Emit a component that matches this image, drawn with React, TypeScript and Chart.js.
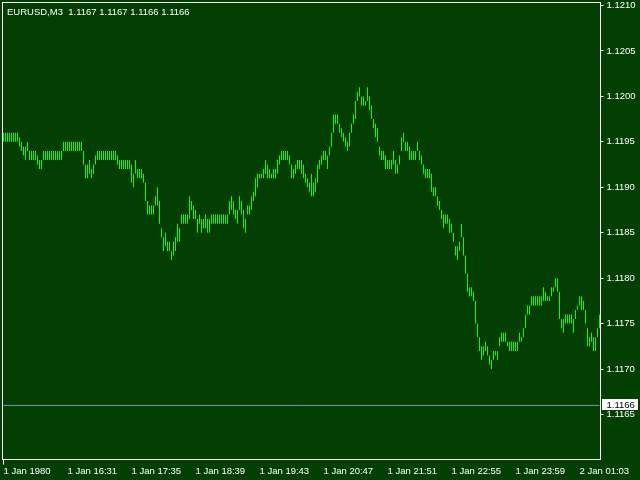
import { useEffect, useRef } from "react";
import { Chart, registerables } from "chart.js";

Chart.register(...registerables);

// ---- chart text ----
const symbolTitle = "EURUSD,M3";
const lastOHLC = ["1.1167", "1.1167", "1.1166", "1.1166"];
const bidPrice = 1.1166;

// time labels shown every 32 bars
const timeLabels = [
  "1 Jan 1980",
  "1 Jan 16:31",
  "1 Jan 17:35",
  "1 Jan 18:39",
  "1 Jan 19:43",
  "1 Jan 20:47",
  "1 Jan 21:51",
  "1 Jan 22:55",
  "1 Jan 23:59",
  "2 Jan 01:03",
];
const labelEvery = 32;

// price axis
const priceTicks = [1.1165, 1.117, 1.1175, 1.118, 1.1185, 1.119, 1.1195, 1.12, 1.1205, 1.121];
const yMin = 1.116005;
const yMax = 1.121033;

// ---- bar highs / lows ----
const highs = [
  // 0-48
  1.1196, 1.1196, 1.1196, 1.1196, 1.1196, 1.1196, 1.1196, 1.1196, 1.11955, 1.1195,
  1.11945, 1.11945, 1.1195, 1.1194, 1.1194, 1.1194, 1.1194, 1.11935, 1.1193, 1.1193,
  1.1194, 1.1194, 1.1194, 1.1194, 1.1194, 1.1194, 1.1194, 1.1194, 1.1194, 1.1194,
  1.1195, 1.1195, 1.1195, 1.1195, 1.1195, 1.1195, 1.1195, 1.1195, 1.1195, 1.1195,
  1.1194, 1.11925, 1.11925, 1.1193, 1.1192, 1.11925, 1.11935, 1.1194, 1.1194,
  // 49-98
  1.1194, 1.1194, 1.1194, 1.1194, 1.1194, 1.1194, 1.1194, 1.1194, 1.11935, 1.1193,
  1.1193, 1.1193, 1.1193, 1.1193, 1.1193, 1.11925, 1.11915, 1.1193, 1.1192, 1.1192,
  1.1192, 1.11915, 1.11905, 1.11885, 1.1188, 1.1188, 1.1188, 1.1189, 1.119, 1.11885,
  1.11855, 1.11845, 1.1185, 1.1184, 1.1184, 1.1183, 1.1184, 1.11845, 1.1186, 1.11855,
  1.1187, 1.1187, 1.1187, 1.1187, 1.1189, 1.11885, 1.1188, 1.11875, 1.11865, 1.1187,
  // 99-148
  1.11865, 1.11865, 1.1187, 1.11865, 1.11865, 1.1187, 1.1187, 1.1187, 1.1187, 1.1187,
  1.1187, 1.1187, 1.1187, 1.1187, 1.11885, 1.1189, 1.11885, 1.11875, 1.11875, 1.1189,
  1.11885, 1.11875, 1.11865, 1.1188, 1.1188, 1.1189, 1.11895, 1.1191, 1.11915, 1.11915,
  1.11915, 1.1192, 1.1193, 1.11925, 1.1192, 1.11915, 1.1192, 1.1192, 1.1193, 1.11935,
  1.1194, 1.1194, 1.1194, 1.1194, 1.11935, 1.11925, 1.1192, 1.11925, 1.1193, 1.1193,
  // 149-198
  1.1193, 1.11925, 1.11915, 1.1191, 1.11905, 1.11915, 1.11905, 1.1191, 1.11925, 1.1193,
  1.11935, 1.1194, 1.1194, 1.11935, 1.11945, 1.1196, 1.1198, 1.1198, 1.1198, 1.1197,
  1.11965, 1.1196, 1.11955, 1.1195, 1.1196, 1.1197, 1.1198, 1.11995, 1.12005, 1.1201,
  1.12, 1.12, 1.11995, 1.1201, 1.12, 1.1199, 1.11975, 1.1197, 1.11965, 1.11945,
  1.1194, 1.1194, 1.11935, 1.1193, 1.1193, 1.1193, 1.1194, 1.1193, 1.11925, 1.11935,
  // 199-248
  1.11955, 1.1196, 1.1195, 1.1195, 1.11945, 1.1194, 1.1194, 1.1194, 1.1195, 1.1194,
  1.11935, 1.11925, 1.1192, 1.1192, 1.1192, 1.11915, 1.119, 1.119, 1.1189, 1.11885,
  1.11875, 1.1187, 1.1187, 1.1187, 1.11865, 1.1186, 1.1185, 1.11835, 1.11835, 1.1184,
  1.1186, 1.11845, 1.11825, 1.11805, 1.1179, 1.1179, 1.11785, 1.11775, 1.1175, 1.11735,
  1.11725, 1.11725, 1.1173, 1.11725, 1.11715, 1.1171, 1.1172, 1.1172, 1.1172, 1.11735,
  // 249-298
  1.1174, 1.1174, 1.1174, 1.1173, 1.1173, 1.1173, 1.1173, 1.1173, 1.1173, 1.1174,
  1.11735, 1.11745, 1.1176, 1.1177, 1.1177, 1.1178, 1.1178, 1.1178, 1.1178, 1.1178,
  1.1178, 1.1179, 1.11785, 1.1178, 1.1178, 1.1179, 1.1179, 1.118, 1.118, 1.11785,
  1.11755, 1.11755, 1.1176, 1.1176, 1.1176, 1.1176, 1.11755, 1.11765, 1.1177, 1.1178,
  1.1178, 1.11775, 1.11765, 1.11745, 1.11735, 1.1174, 1.11735, 1.11735, 1.11745, 1.1176,
];

const lows = [
  // 0-48
  1.1195, 1.1195, 1.1195, 1.1195, 1.1195, 1.1195, 1.1195, 1.1195, 1.11945, 1.1194,
  1.11935, 1.1193, 1.1194, 1.1193, 1.1193, 1.1193, 1.1193, 1.11925, 1.1192, 1.1192,
  1.1193, 1.1193, 1.1193, 1.1193, 1.1193, 1.1193, 1.1193, 1.1193, 1.1193, 1.1193,
  1.1194, 1.1194, 1.1194, 1.1194, 1.1194, 1.1194, 1.1194, 1.1194, 1.1194, 1.1194,
  1.11925, 1.1191, 1.1191, 1.11915, 1.1191, 1.11915, 1.11925, 1.1193, 1.1193,
  // 49-98
  1.1193, 1.1193, 1.1193, 1.1193, 1.1193, 1.1193, 1.1193, 1.1193, 1.11925, 1.1192,
  1.1192, 1.1192, 1.1192, 1.1192, 1.1192, 1.11905, 1.119, 1.11915, 1.1191, 1.1191,
  1.1191, 1.11905, 1.11885, 1.1187, 1.1187, 1.1187, 1.1187, 1.1188, 1.1188, 1.1186,
  1.11845, 1.1183, 1.11835, 1.1183, 1.1183, 1.1182, 1.11825, 1.1183, 1.1184, 1.1184,
  1.1186, 1.1186, 1.1186, 1.1186, 1.11865, 1.11875, 1.11865, 1.11865, 1.1185, 1.1186,
  // 99-148
  1.1185, 1.11855, 1.11855, 1.1185, 1.1185, 1.1186, 1.1186, 1.1186, 1.1186, 1.1186,
  1.1186, 1.1186, 1.1186, 1.1186, 1.1187, 1.11875, 1.1187, 1.11865, 1.1186, 1.11875,
  1.1187, 1.11855, 1.1185, 1.1187, 1.1187, 1.11875, 1.11885, 1.1189, 1.119, 1.1191,
  1.1191, 1.1191, 1.11915, 1.1191, 1.1191, 1.1191, 1.1191, 1.1191, 1.11915, 1.11925,
  1.1193, 1.1193, 1.1193, 1.1193, 1.11925, 1.1191, 1.1191, 1.11915, 1.1192, 1.1192,
  // 149-198
  1.11915, 1.1191, 1.11905, 1.119, 1.11895, 1.1189, 1.1189, 1.11895, 1.11905, 1.1192,
  1.11925, 1.1193, 1.1193, 1.1192, 1.11935, 1.11945, 1.1196, 1.1197, 1.1197, 1.1196,
  1.11955, 1.1195, 1.11945, 1.1194, 1.11945, 1.1196, 1.1197, 1.11975, 1.11995, 1.12,
  1.1199, 1.1199, 1.1199, 1.11995, 1.11985, 1.11975, 1.11965, 1.11955, 1.1195, 1.11935,
  1.1193, 1.1193, 1.1192, 1.1192, 1.1192, 1.1192, 1.11925, 1.11915, 1.11915, 1.11925,
  // 199-248
  1.1194, 1.1195, 1.1194, 1.1194, 1.1193, 1.1193, 1.1193, 1.1193, 1.1194, 1.1193,
  1.11925, 1.11915, 1.1191, 1.1191, 1.1191, 1.11895, 1.1189, 1.1189, 1.1188, 1.11875,
  1.11865, 1.11855, 1.1186, 1.1186, 1.1185, 1.1185, 1.1184, 1.11825, 1.1182, 1.1183,
  1.11845, 1.11825, 1.11805, 1.11785, 1.1178, 1.1178, 1.11775, 1.1175, 1.11735, 1.1172,
  1.1171, 1.11715, 1.1172, 1.11715, 1.11705, 1.117, 1.1171, 1.11715, 1.1171, 1.11725,
  // 249-298
  1.1173, 1.1173, 1.1173, 1.11725, 1.1172, 1.1172, 1.1172, 1.1172, 1.1172, 1.1173,
  1.1173, 1.11735, 1.11745, 1.1176, 1.1176, 1.1177, 1.1177, 1.1177, 1.1177, 1.1177,
  1.1177, 1.11775, 1.11775, 1.11775, 1.11775, 1.1178, 1.11785, 1.1179, 1.11785, 1.11755,
  1.11745, 1.1174, 1.1175, 1.1175, 1.1175, 1.1175, 1.1174, 1.11755, 1.11765, 1.1177,
  1.11765, 1.11765, 1.1175, 1.11725, 1.11725, 1.1173, 1.1172, 1.1172, 1.11735, 1.11745,
];

const BG = "#033f03";
const BAR = "#00ff00";
const FG = "#ffffff";
const BID_LINE = "#8a90b0";
const FONT = "Liberation Sans";

export default function App() {
  const canvasRef = useRef<HTMLCanvasElement>(null);

  useEffect(() => {
    const canvas = canvasRef.current;
    if (!canvas) return;
    const labels = highs.map((_, i) => i);
    const ranges = highs.map((h, i) => [lows[i], h]);

    const framePlugin = {
      id: "frame",
      beforeDatasetsDraw(chart: any) {
        const { ctx, chartArea: a } = chart;
        ctx.save();
        ctx.strokeStyle = FG;
        ctx.lineWidth = 1;
        ctx.strokeRect(a.left, a.top, a.right - a.left, a.bottom - a.top);
        ctx.restore();
      },
      afterDraw(chart: any) {
        const { ctx } = chart;
        const yScale = chart.scales.y;
        const yb = yScale.getPixelForValue(bidPrice);
        ctx.save();
        // bid price label box
        ctx.fillStyle = FG;
        ctx.fillRect(602, Math.round(yb) - 6, 36, 11);
        ctx.fillStyle = "#000000";
        ctx.font = `9.5px "${FONT}"`;
        ctx.textBaseline = "middle";
        ctx.textAlign = "left";
        ctx.fillText(bidPrice.toFixed(4), 606.5, yb);
        // header text
        ctx.fillStyle = FG;
        ctx.textBaseline = "alphabetic";
        ctx.fillText(symbolTitle + "  " + lastOHLC.join(" "), 7, 15);
        ctx.restore();
      },
    };

    const chart = new Chart(canvas, {
      type: "bar",
      data: {
        labels,
        datasets: [
          {
            type: "bar",
            data: ranges as any,
            backgroundColor: BAR,
            borderWidth: 0,
            barThickness: 1,
            inflateAmount: 0,
            order: 1,
          } as any,
          {
            type: "line",
            data: [
              { x: 0, y: bidPrice },
              { x: labels.length - 1, y: bidPrice },
            ],
            borderColor: BID_LINE,
            borderWidth: 1,
            pointRadius: 0,
            pointHoverRadius: 0,
            pointBorderWidth: 0,
            fill: false,
            order: 2,
          } as any,
        ],
      },
      options: {
        responsive: false,
        devicePixelRatio: 1,
        animation: false,
        events: [],
        layout: { autoPadding: false, padding: { left: 2.5, top: 2.5, right: 0, bottom: 0 } },
        plugins: {
          legend: { display: false },
          tooltip: { enabled: false },
        },
        scales: {
          x: {
            type: "category",
            offset: true,
            border: { display: false },
            grid: {
              display: true,
              drawOnChartArea: false,
              drawTicks: true,
              tickLength: 5,
              offset: false,
              color: "rgba(0,0,0,0)",
              tickColor: (c: any) => (c.index % labelEvery === 0 ? FG : "rgba(0,0,0,0)"),
            },
            ticks: {
              autoSkip: false,
              maxRotation: 0,
              minRotation: 0,
              align: "start",
              padding: 1,
              color: FG,
              font: { family: FONT, size: 9.5 },
              callback: (_v: any, i: number) =>
                i % labelEvery === 0 ? timeLabels[i / labelEvery] : null,
            },
            afterFit: (s: any) => {
              s.height = 20.5;
              s.paddingLeft = 0;
              s.paddingRight = 0;
              s.paddingTop = 0;
              s.paddingBottom = 0;
            },
          } as any,
          y: {
            type: "linear",
            position: "right",
            min: yMin,
            max: yMax,
            border: { display: false },
            afterBuildTicks: (s: any) => {
              s.ticks = priceTicks.map((v) => ({ value: v }));
            },
            grid: {
              drawOnChartArea: false,
              drawTicks: true,
              tickLength: 3,
              color: FG,
              tickColor: FG,
            },
            ticks: {
              autoSkip: false,
              padding: 3,
              color: FG,
              font: { family: FONT, size: 9.5 },
              callback: (v: any) => Number(v).toFixed(4),
            },
            afterFit: (s: any) => {
              s.width = 39.5;
              s.paddingLeft = 0;
              s.paddingRight = 0;
              s.paddingTop = 0;
              s.paddingBottom = 0;
            },
          } as any,
        },
      },
      plugins: [framePlugin],
    });

    return () => chart.destroy();
  }, []);

  return (
    <div
      style={{
        position: "absolute",
        left: 0,
        top: 0,
        width: 640,
        height: 480,
        background: BG,
        overflow: "hidden",
      }}
    >
      <canvas ref={canvasRef} width={640} height={480} style={{ display: "block" }} />
    </div>
  );
}
